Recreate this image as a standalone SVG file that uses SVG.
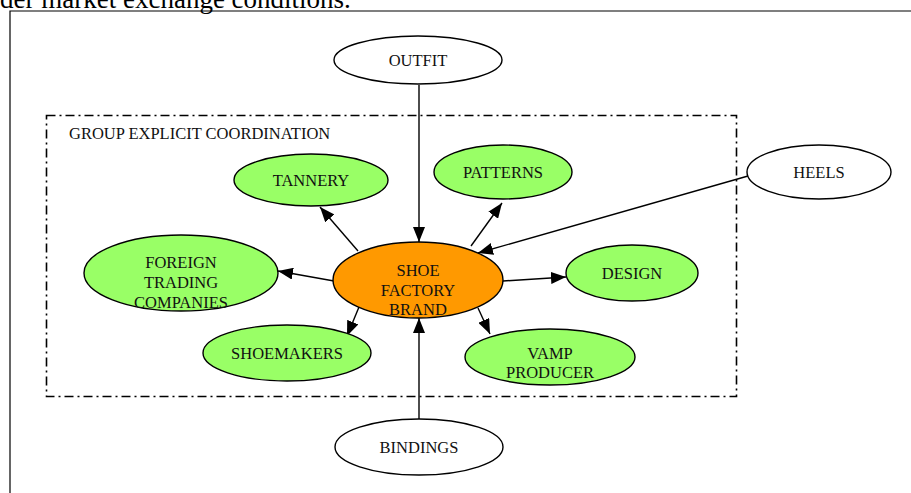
<svg xmlns="http://www.w3.org/2000/svg" width="911" height="493" viewBox="0 0 911 493">
  <style>
    .lbl { font-family: "Liberation Serif", "Times New Roman", serif; font-size: 16.5px; fill: #111; text-anchor: middle; }
    .node { stroke: #000; stroke-width: 1.4; }
    .green { fill: #99ff66; }
    .white { fill: #ffffff; }
    .hub { fill: #ff9900; }
    .edge { stroke: #000; stroke-width: 1.4; fill: none; marker-end: url(#arrow); }
  </style>
  <defs>
    <marker id="arrow" markerUnits="userSpaceOnUse" markerWidth="16" markerHeight="12" refX="15" refY="6" orient="auto">
      <path d="M0,0 L15,6 L0,12 Z" fill="#000"/>
    </marker>
  </defs>

  <rect width="911" height="493" fill="#fff"/>

  <!-- running text above the figure frame -->
  <text x="0" y="8" font-family="Liberation Serif, serif" font-size="27" fill="#000">der market exchange conditions.</text>

  <!-- figure frame -->
  <path d="M10,494 L10,11 L912,11" fill="none" stroke="#000" stroke-width="1.2"/>

  <!-- cluster -->
  <g id="cluster">
    <rect x="46.5" y="115.5" width="690" height="281" fill="none" stroke="#000" stroke-width="1.6" stroke-dasharray="9,4,2,4"/>
    <text x="69" y="139" font-family="Liberation Serif, serif" font-size="16.5" fill="#111">GROUP EXPLICIT COORDINATION</text>
  </g>

  <!-- connectors -->
  <g id="edges">
    <line class="edge" x1="419" y1="85" x2="419" y2="242"/>
    <line class="edge" x1="419" y1="419" x2="419" y2="318"/>
    <line class="edge" x1="748" y1="176" x2="478" y2="253"/>
    <line class="edge" x1="358" y1="251" x2="320" y2="207"/>
    <line class="edge" x1="471" y1="246" x2="502" y2="203"/>
    <line class="edge" x1="334" y1="281" x2="278" y2="271"/>
    <line class="edge" x1="503" y1="281" x2="566" y2="277"/>
    <line class="edge" x1="359" y1="307" x2="347" y2="336"/>
    <line class="edge" x1="478" y1="308" x2="490" y2="334"/>
  </g>

  <g id="outfit">
    <ellipse class="node white" cx="418" cy="60" rx="84" ry="24"/>
    <text class="lbl" x="418" y="66">OUTFIT</text>
  </g>
  <g id="tannery">
    <ellipse class="node green" cx="311" cy="180" rx="77" ry="26"/>
    <text class="lbl" x="311" y="186">TANNERY</text>
  </g>
  <g id="patterns">
    <ellipse class="node green" cx="503" cy="172" rx="69" ry="27"/>
    <text class="lbl" x="503" y="178">PATTERNS</text>
  </g>
  <g id="heels">
    <ellipse class="node white" cx="819" cy="172" rx="72" ry="27"/>
    <text class="lbl" x="819" y="178">HEELS</text>
  </g>
  <g id="foreign">
    <ellipse class="node green" cx="181" cy="273" rx="97" ry="38"/>
    <text class="lbl" x="181" y="268">FOREIGN</text>
    <text class="lbl" x="181" y="288">TRADING</text>
    <text class="lbl" x="181" y="308">COMPANIES</text>
  </g>
  <g id="brand">
    <ellipse class="node hub" cx="418" cy="280" rx="85" ry="38"/>
    <text class="lbl" x="418" y="276">SHOE</text>
    <text class="lbl" x="418" y="296">FACTORY</text>
    <text class="lbl" x="418" y="315">BRAND</text>
  </g>
  <g id="design">
    <ellipse class="node green" cx="632" cy="273" rx="66" ry="28"/>
    <text class="lbl" x="632" y="279">DESIGN</text>
  </g>
  <g id="shoemakers">
    <ellipse class="node green" cx="287" cy="353" rx="84" ry="28"/>
    <text class="lbl" x="287" y="359">SHOEMAKERS</text>
  </g>
  <g id="vamp">
    <ellipse class="node green" cx="550" cy="357" rx="85" ry="28"/>
    <text class="lbl" x="550" y="359">VAMP</text>
    <text class="lbl" x="550" y="378">PRODUCER</text>
  </g>
  <g id="bindings">
    <ellipse class="node white" cx="419" cy="447" rx="84" ry="28"/>
    <text class="lbl" x="419" y="453">BINDINGS</text>
  </g>
</svg>
